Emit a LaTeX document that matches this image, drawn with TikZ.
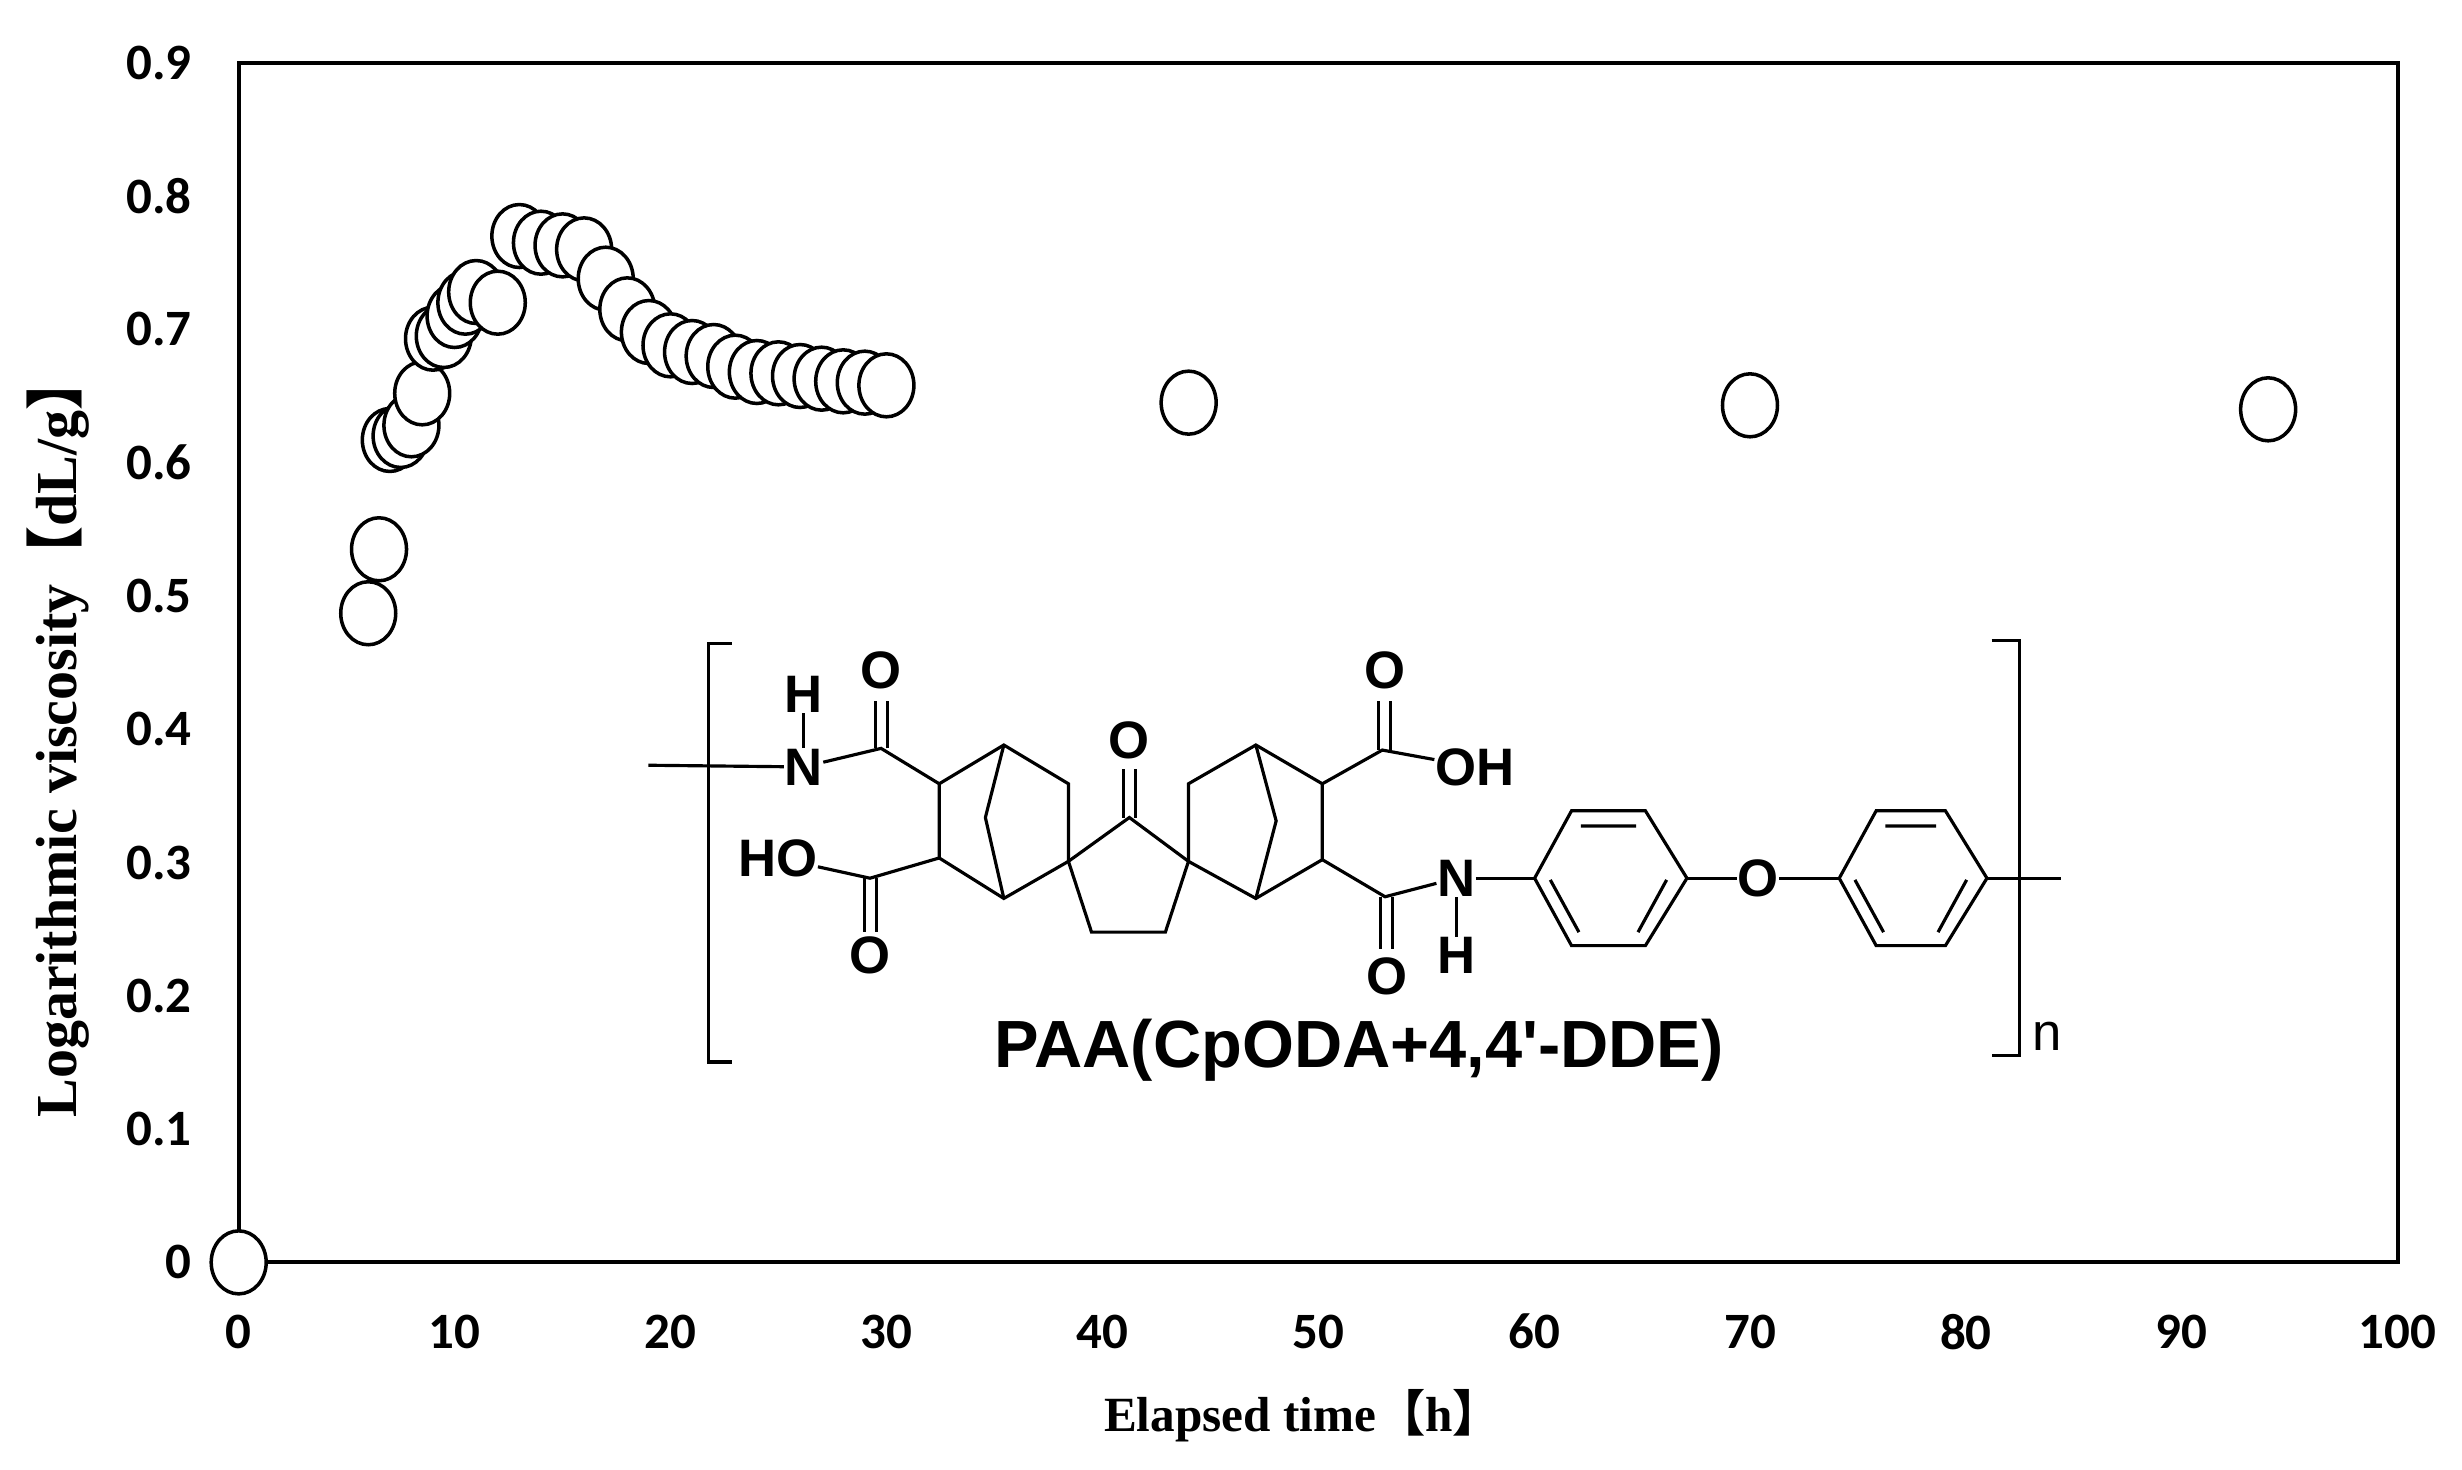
\documentclass[tikz,border=0pt]{standalone}
\usepackage{fontspec}
\setmainfont{Liberation Serif}
\newfontfamily\tickfont{Carlito}
\newfontfamily\chemfont{Liberation Sans}
\newfontfamily\cjk{Noto Sans CJK JP}
\usetikzlibrary{shapes.geometric}
\tikzset{
  pt/.style={draw,fill=white,ellipse,line width=1pt,minimum width=0.55cm,minimum height=0.63cm,inner sep=0pt},
  tick/.style={font=\tickfont\bfseries\fontsize{14.5}{14.5}\selectfont},
  bond/.style={line width=0.9pt,line join=miter},
  atom/.style={font=\chemfont\bfseries\fontsize{15}{15}\selectfont,inner sep=0pt}
}
\begin{document}
\begin{tikzpicture}
\useasboundingbox (0,0) rectangle (24.62,14.70);
\begin{scope}[shift={(2.387,2.076)},x=0.2159cm,y=13.329cm]
  \draw[line width=1.1pt] (0,0) rectangle (100,0.9);
  \foreach \v in {0,0.1,0.2,0.3,0.4,0.5,0.6,0.7,0.8,0.9}
    \node[tick,anchor=east] (yl\v) at (-1.6,\v) {\v};
  \foreach \v in {0,10,...,100}
    \node[tick] (xl\v) at (\v,-0.052) {\v};
  \foreach \px/\py [count=\i] in {0/0,6/0.487,6.5/0.535,7/0.617,7.5/0.62,8/0.628,8.5/0.652,9/0.693,9.5/0.695,10/0.71,10.5/0.72,11/0.728,12/0.72,13/0.77,14/0.765,15/0.763,16/0.76,17/0.738,18/0.715,19/0.698,20/0.688,21/0.683,22/0.68,23/0.672,24/0.668,25/0.667,26/0.665,27/0.663,28/0.661,29/0.66,30/0.658,44/0.645,70/0.643,94/0.64}
    \node[pt] (p\i) at (\px,\py) {};
\end{scope}
\node[font=\bfseries\fontsize{14}{14}\selectfont] (xt) at (13.03,0.54) {Elapsed time{\cjk 【}h{\cjk 】}};
\node[font=\bfseries\fontsize{16.5}{16.5}\selectfont,rotate=90] (yt) at (0.58,7.35) {Logarithmic viscosity{\cjk 【}dL/g{\cjk 】}};
\begin{scope}[shift={(6.392,8.548)},x=0.009233cm,y=-0.003368cm]
  \draw[bond] (100,85) -- (75,85) -- (75,1325) -- (100,1325);
  \draw[bond] (1465,75) -- (1495,75) -- (1495,1305) -- (1465,1305);
  \node[font=\chemfont\fontsize{15}{15}\selectfont] (nn) at (1525,1250) {n};
  \node[atom] (N1) at (178,450) {N};
  \node[atom] (H1) at (178,235) {H};
  \node[atom] (O1) at (262,165) {O};
  \node[atom] (HO) at (150,720) {HO};
  \node[atom] (O2) at (250,1010) {O};
  \node[atom] (O3) at (531,370) {O};
  \node[atom] (O4) at (808,165) {O};
  \node[atom] (OH) at (905,450) {OH};
  \node[atom] (N2) at (885,780) {N};
  \node[atom] (H2) at (885,1010) {H};
  \node[atom] (O5) at (810,1070) {O};
  \node[atom] (O6) at (1212,780) {O};
  \draw[bond] (10,445) -- (N1);
  \draw[bond] (H1) -- (N1);
  \draw[bond] (N1) -- (262,395) -- (325,500);
  \draw[bond] (256,395) -- (256,255) (269,395) -- (269,255);
  \draw[bond] (325,500) -- (395,385) -- (465,500) -- (465,730) -- (395,840) -- (325,720) -- cycle;
  \draw[bond] (395,385) -- (375,600) -- (395,840);
  \draw[bond] (325,720) -- (250,780) -- (HO);
  \draw[bond] (244,780) -- (244,940) (257,780) -- (257,940);
  \draw[bond] (465,730) -- (531,600) -- (595,730) -- (570,940) -- (490,940) -- cycle;
  \draw[bond] (525,600) -- (525,455) (538,600) -- (538,455);
  \draw[bond] (595,730) -- (595,500) -- (668,385) -- (740,500) -- (740,725) -- (668,840) -- cycle;
  \draw[bond] (668,385) -- (690,610) -- (668,840);
  \draw[bond] (740,500) -- (805,400) -- (OH);
  \draw[bond] (801,400) -- (801,255) (814,400) -- (814,255);
  \draw[bond] (740,725) -- (808,835) -- (N2);
  \draw[bond] (803,835) -- (803,990) (816,835) -- (816,990);
  \draw[bond] (N2) -- (H2);
  \draw[bond] (N2) -- (970,780);
  \draw[bond] (970,780) -- (1010,580) -- (1090,580) -- (1135,780) -- (1090,980) -- (1010,980) -- cycle;
  \draw[bond] (1020,625) -- (1080,625) (1113,785) -- (1082,940) (987,785) -- (1018,940);
  \draw[bond] (1135,780) -- (O6) -- (1300,780);
  \draw[bond] (1300,780) -- (1340,580) -- (1415,580) -- (1460,780) -- (1415,980) -- (1340,980) -- cycle;
  \draw[bond] (1350,625) -- (1405,625) (1438,785) -- (1407,940) (1317,785) -- (1348,940);
  \draw[bond] (1460,780) -- (1540,780);
  \node[font=\chemfont\bfseries\fontsize{19}{19}\selectfont] (lab) at (780,1290) {PAA(CpODA+4,4'-DDE)};
\end{scope}
\end{tikzpicture}
\end{document}
